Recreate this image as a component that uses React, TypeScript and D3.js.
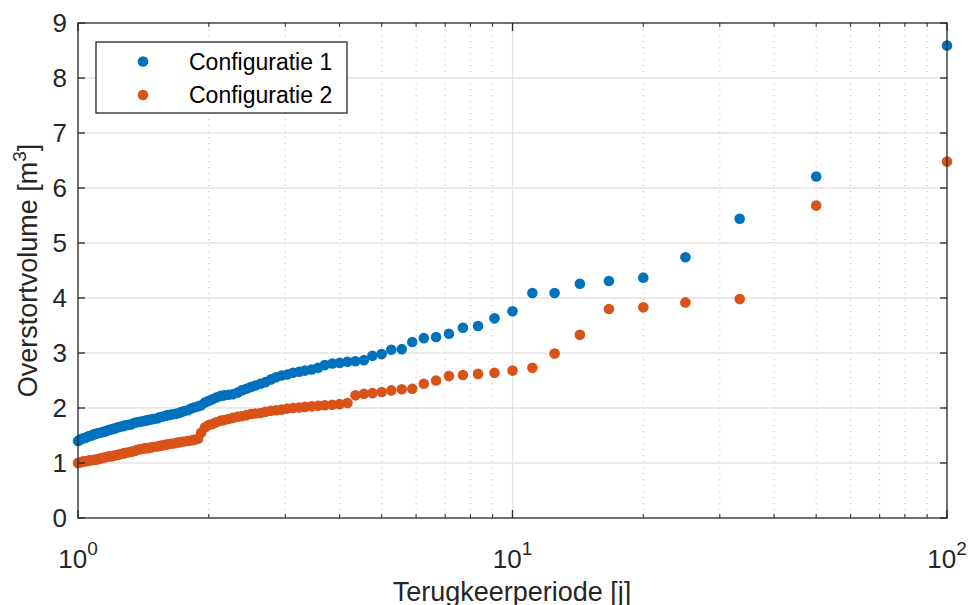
import React from "react";
import * as d3 from "d3";

// Return periods [j] (rank-based: N / rank)
const periods: number[] = [
  100, 50, 33.33, 25, 20, 16.67, 14.29, 12.5, 11.11, 10,
  9.09, 8.33, 7.69, 7.14, 6.67, 6.25, 5.88, 5.56, 5.26, 5.0,
  4.76, 4.55, 4.35, 4.17, 4.0, 3.85, 3.7, 3.57, 3.45, 3.33,
  3.23, 3.125, 3.03, 2.94, 2.857, 2.78, 2.7, 2.63, 2.56, 2.5,
  2.44, 2.38, 2.33, 2.27, 2.22, 2.17, 2.13, 2.08, 2.04, 2.0,
  1.96, 1.92, 1.89, 1.85, 1.82, 1.79, 1.75, 1.72, 1.69, 1.67,
  1.64, 1.61, 1.59, 1.5625, 1.54, 1.52, 1.49, 1.47, 1.45, 1.43,
  1.41, 1.39, 1.37, 1.35, 1.33, 1.32, 1.3, 1.28, 1.27, 1.25,
  1.235, 1.22, 1.205, 1.19, 1.176, 1.163, 1.149, 1.136, 1.124, 1.111,
  1.099, 1.087, 1.075, 1.064, 1.053, 1.042, 1.031, 1.02, 1.01, 1.0,
];

const config1: number[] = [
  8.59, 6.21, 5.44, 4.74, 4.37, 4.31, 4.26, 4.09, 4.09, 3.76,
  3.63, 3.49, 3.46, 3.35, 3.29, 3.27, 3.2, 3.07, 3.06, 2.98,
  2.95, 2.87, 2.85, 2.84, 2.82, 2.81, 2.78, 2.73, 2.7, 2.68,
  2.66, 2.64, 2.61, 2.59, 2.56, 2.52, 2.47, 2.44, 2.41, 2.38,
  2.35, 2.32, 2.28, 2.25, 2.24, 2.23, 2.22, 2.19, 2.16, 2.13,
  2.1, 2.05, 2.03, 2.01, 1.99, 1.96, 1.94, 1.92, 1.9, 1.89,
  1.88, 1.87, 1.86, 1.84, 1.83, 1.81, 1.8, 1.79, 1.78, 1.77,
  1.76, 1.75, 1.74, 1.73, 1.71, 1.7, 1.69, 1.68, 1.67, 1.66,
  1.65, 1.63, 1.62, 1.61, 1.6, 1.58, 1.57, 1.56, 1.55, 1.54,
  1.53, 1.52, 1.5, 1.49, 1.48, 1.46, 1.45, 1.44, 1.42, 1.4,
];

const config2: number[] = [
  6.48, 5.68, 3.98, 3.92, 3.83, 3.8, 3.33, 2.99, 2.73, 2.68,
  2.64, 2.62, 2.6, 2.58, 2.5, 2.44, 2.35, 2.34, 2.32, 2.29,
  2.27, 2.26, 2.23, 2.09, 2.07, 2.06, 2.05, 2.04, 2.03, 2.02,
  2.01, 2.0, 1.99, 1.97, 1.96, 1.95, 1.93, 1.91, 1.9, 1.89,
  1.87, 1.85, 1.84, 1.82, 1.8, 1.78, 1.77, 1.74, 1.71, 1.69,
  1.65, 1.55, 1.44, 1.42, 1.41, 1.4, 1.39, 1.38, 1.37, 1.36,
  1.35, 1.34, 1.33, 1.32, 1.31, 1.3, 1.29, 1.28, 1.27, 1.27,
  1.26, 1.25, 1.24, 1.22, 1.21, 1.2, 1.19, 1.18, 1.17, 1.16,
  1.15, 1.14, 1.13, 1.12, 1.12, 1.11, 1.1, 1.09, 1.08, 1.07,
  1.06, 1.06, 1.05, 1.05, 1.04, 1.03, 1.03, 1.02, 1.01, 1.0,
];

const seriesNames = ["Configuratie 1", "Configuratie 2"];
const seriesColors = ["#0072BD", "#D95319"];
const yTicks = [0, 1, 2, 3, 4, 5, 6, 7, 8, 9];
const xMajorExps = [0, 1, 2];
const xMinorTicks = [2, 3, 4, 5, 6, 7, 8, 9, 20, 30, 40, 50, 60, 70, 80, 90];
const xLabel = "Terugkeerperiode [j]";
const yLabelMain = "Overstortvolume [m";
const yLabelSup = "3";

const W = 971;
const H = 605;
const M = { left: 78, top: 23, right: 947, bottom: 518 };
const FONT = "Arial, 'Liberation Sans', Helvetica, sans-serif";
const AX = "#262626";
const GRID = "#e3e3e3";

export default function App() {
  const x = d3.scaleLog().domain([1, 100]).range([M.left, M.right]);
  const y = d3.scaleLinear().domain([0, 9]).range([M.bottom, M.top]);
  const series = [config1, config2];

  return (
    <svg
      width={W}
      height={H}
      style={{ position: "fixed", left: 0, top: 0, background: "#fff" }}
      fontFamily={FONT}
    >
      <rect x={0} y={0} width={W} height={H} fill="#fff" />
      {/* minor x grid (dotted) */}
      {xMinorTicks.map((t) => (
        <line
          key={"mg" + t}
          x1={x(t)}
          x2={x(t)}
          y1={M.top}
          y2={M.bottom}
          stroke="#bdbdbd"
          strokeWidth={1}
          strokeDasharray="1 5"
        />
      ))}
      {/* major grid */}
      {yTicks.slice(1, -1).map((t) => (
        <line key={"gy" + t} x1={M.left} x2={M.right} y1={y(t)} y2={y(t)} stroke={GRID} strokeWidth={1.3} />
      ))}
      <line x1={x(10)} x2={x(10)} y1={M.top} y2={M.bottom} stroke={GRID} strokeWidth={1.3} />

      {/* data */}
      {series.map((s, si) =>
        s.map((v, i) => (
          <circle key={si + "-" + i} cx={x(periods[i])} cy={y(v)} r={5.3} fill={seriesColors[si]} />
        ))
      )}

      {/* box */}
      <rect
        x={M.left}
        y={M.top}
        width={M.right - M.left}
        height={M.bottom - M.top}
        fill="none"
        stroke={AX}
        strokeWidth={1.3}
      />
      {/* y ticks */}
      {yTicks.map((t) => (
        <g key={"yt" + t}>
          <line x1={M.left} x2={M.left + 7} y1={y(t)} y2={y(t)} stroke={AX} strokeWidth={1.3} />
          <line x1={M.right} x2={M.right - 7} y1={y(t)} y2={y(t)} stroke={AX} strokeWidth={1.3} />
          <text x={M.left - 11} y={y(t)} dy="0.36em" textAnchor="end" fontSize={26} fill={AX}>
            {t}
          </text>
        </g>
      ))}
      {/* x ticks */}
      {xMinorTicks.map((t) => (
        <g key={"xm" + t}>
          <line x1={x(t)} x2={x(t)} y1={M.bottom} y2={M.bottom - 4} stroke={AX} strokeWidth={1} />
          <line x1={x(t)} x2={x(t)} y1={M.top} y2={M.top + 4} stroke={AX} strokeWidth={1} />
        </g>
      ))}
      {xMajorExps.map((e) => {
        const v = Math.pow(10, e);
        return (
          <g key={"xM" + e}>
            <line x1={x(v)} x2={x(v)} y1={M.bottom} y2={M.bottom - 8} stroke={AX} strokeWidth={1.3} />
            <line x1={x(v)} x2={x(v)} y1={M.top} y2={M.top + 8} stroke={AX} strokeWidth={1.3} />
            <text x={x(v)} y={568} textAnchor="middle" fontSize={26} fill={AX}>
              <tspan>10</tspan>
              <tspan fontSize={19} dy={-13}>
                {e}
              </tspan>
            </text>
          </g>
        );
      })}

      {/* axis labels */}
      <text x={512} y={601} textAnchor="middle" fontSize={27} fill={AX}>
        {xLabel}
      </text>
      <text
        transform={`translate(37,${(M.top + M.bottom) / 2}) rotate(-90)`}
        textAnchor="middle"
        fontSize={27}
        fill={AX}
      >
        <tspan>{yLabelMain}</tspan>
        <tspan fontSize={19} dy={-11}>
          {yLabelSup}
        </tspan>
        <tspan dy={11}>]</tspan>
      </text>

      {/* legend */}
      <rect x={96} y={42} width={251} height={71} fill="#fff" stroke={AX} strokeWidth={1.3} />
      {seriesNames.map((n, i) => (
        <g key={"lg" + i}>
          <circle cx={143} cy={61.5 + i * 33.5} r={5.3} fill={seriesColors[i]} />
          <text x={189} y={61.5 + i * 33.5} dy="0.36em" fontSize={23} fill="#000">
            {n}
          </text>
        </g>
      ))}
    </svg>
  );
}
